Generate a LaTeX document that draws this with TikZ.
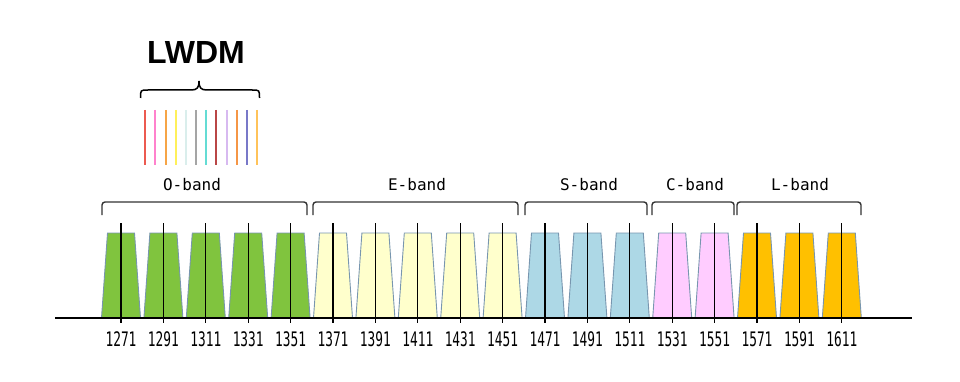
\documentclass[tikz,border=0pt]{standalone}
\usepackage{fontspec}
\usepackage{graphicx}
\newfontfamily\labelfont{DejaVu Sans Mono}
\newfontfamily\titlefont{Liberation Sans}

\definecolor{ogreen}{RGB}{128,196,62}
\definecolor{eyellow}{RGB}{255,255,204}
\definecolor{sblue}{RGB}{173,216,230}
\definecolor{cpink}{RGB}{255,204,255}
\definecolor{lorange}{RGB}{255,192,0}
\definecolor{chanedge}{RGB}{120,150,175}
% LWDM line colours
\definecolor{lw1}{RGB}{236,90,80}
\definecolor{lw2}{RGB}{255,130,205}
\definecolor{lw3}{RGB}{246,165,70}
\definecolor{lw4}{RGB}{255,240,90}
\definecolor{lw5}{RGB}{218,238,236}
\definecolor{lw6}{RGB}{165,165,165}
\definecolor{lw7}{RGB}{100,220,212}
\definecolor{lw8}{RGB}{185,70,70}
\definecolor{lw9}{RGB}{215,185,240}
\definecolor{lw10}{RGB}{245,150,70}
\definecolor{lw11}{RGB}{120,120,200}
\definecolor{lw12}{RGB}{255,195,90}

\tikzset{
  chan/.style={draw=chanedge, line width=0.9pt},
  cline/.style={line width=1.2pt},
  bracket/.style={line width=1.4pt, rounded corners=3pt, draw=black!80},
  bandlabel/.style={font=\labelfont\fontsize{16}{16}\selectfont, text=black},
  wavelabel/.style={font=\labelfont\fontsize{20}{20}\selectfont},
}

\begin{document}
\begin{tikzpicture}[x=1pt,y=-1pt]
    \useasboundingbox (0,0) rectangle (960,382);

    % Title and brace
    \node[font=\titlefont\bfseries\fontsize{32}{32}\selectfont] (lwdm) at (196,52.5) {LWDM};
    \draw[line width=1.5pt] (140.5,98) .. controls (140.5,90) .. (148,90) -- (191,90)
        .. controls (197,90) and (199,88) .. (199,81) .. controls (199,88) and (201,90) .. (207,90) -- (252,90)
        .. controls (259.5,90) .. (259.5,98);

    % LWDM lines
    \foreach \i in {1,...,12}
        \draw[lw\i, line width=2pt] ({145.3+10.15*(\i-1)},110) -- ({145.3+10.15*(\i-1)},165);

    % Channels
    \foreach \w/\col [count=\i from 0] in {1271/ogreen,1291/ogreen,1311/ogreen,1331/ogreen,1351/ogreen,
        1371/eyellow,1391/eyellow,1411/eyellow,1431/eyellow,1451/eyellow,
        1471/sblue,1491/sblue,1511/sblue,1531/cpink,1551/cpink,
        1571/lorange,1591/lorange,1611/lorange}
    {
        \pgfmathsetmacro{\cx}{121+42.4*\i}
        \filldraw[chan, fill=\col] (\cx-19.5,318) -- (\cx-13.5,233) -- (\cx+13.5,233) -- (\cx+19.5,318);
        \coordinate (t\w) at (\cx,223);
        \coordinate (b\w) at (\cx,323);
        \node[wavelabel] (w\w) at (\cx,339) {\scalebox{0.64}[1]{\w}};
    }

    % Axis
    \coordinate (axisL) at (55,318);
    \coordinate (axisR) at (912,318);
    \draw[line width=2pt] (axisL) -- (axisR);

    % Centre lines
    \foreach \w in {1271,1291,1311,1331,1351,1371,1391,1411,1431,1451,1471,1491,1511,1531,1551,1571,1591,1611}
        \draw[cline] (t\w) -- (b\w);

    % Bands
    \foreach \a/\b/\lx/\band in {102/307/192/O,313/518/417/E,525/647/589/S,652/734/695/C,737/861/800/L}
    {
        \draw[bracket] (\a,215) -- (\a,202) -- (\b,202) -- (\b,215);
        \node[bandlabel] (\band band) at (\lx,185) {\band-band};
    }
\end{tikzpicture}
\end{document}
